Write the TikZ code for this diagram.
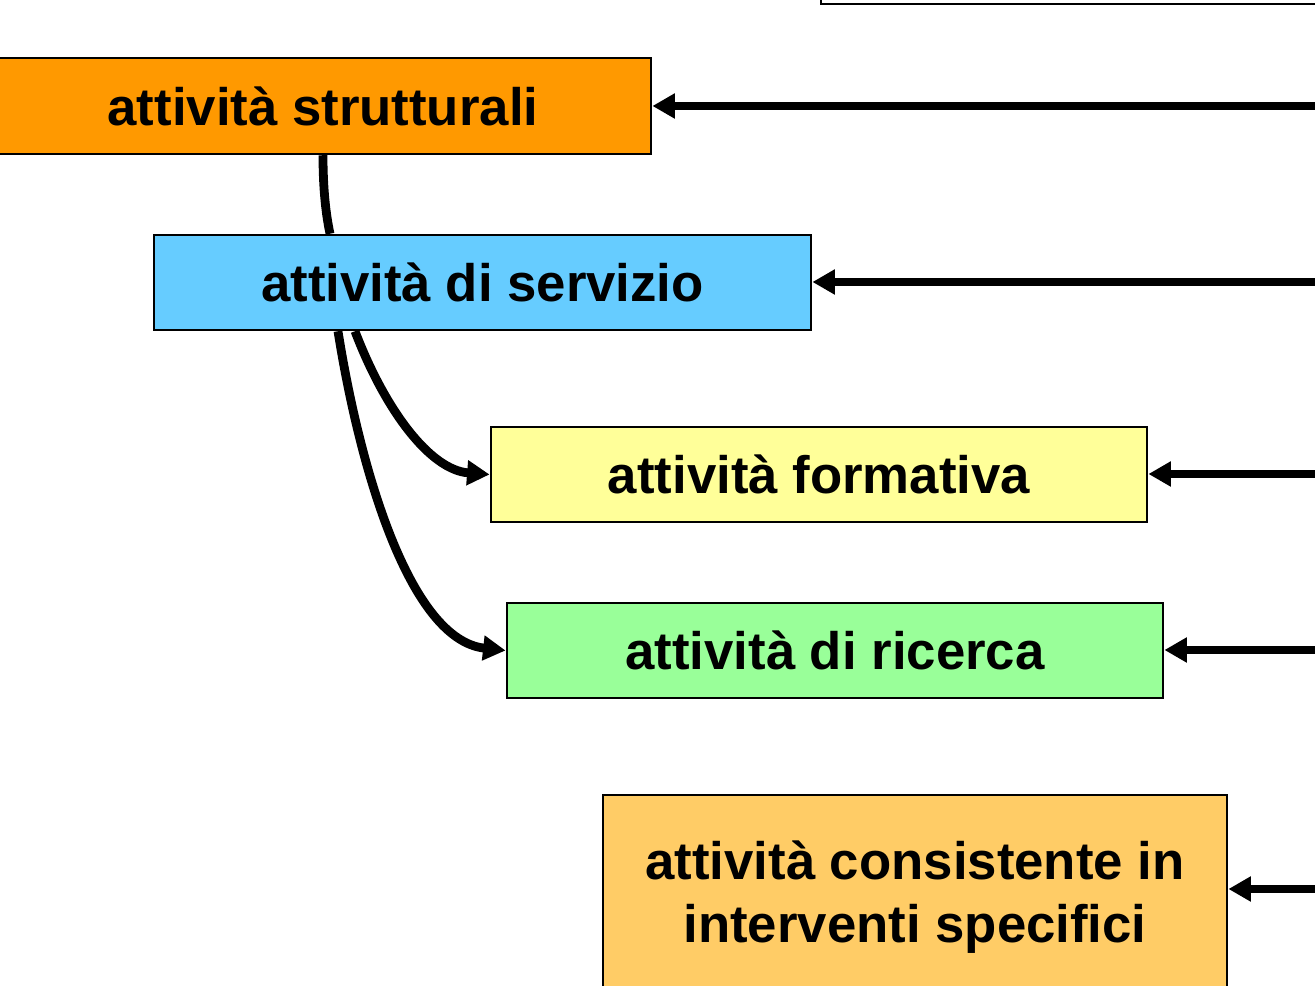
\documentclass[tikz,border=0pt]{standalone}
\usepackage{fontspec}
\setmainfont{Liberation Sans}
\usetikzlibrary{arrows.meta}
\definecolor{cOrange}{HTML}{FF9900}
\definecolor{cBlue}{HTML}{66CCFF}
\definecolor{cYellow}{HTML}{FFFF99}
\definecolor{cGreen}{HTML}{99FF99}
\definecolor{cLight}{HTML}{FFCC66}
\tikzset{
  box/.style={draw=black, line width=0.7pt, inner sep=0pt, align=center,
    font=\fontsize{15}{18}\selectfont\bfseries},
  feed/.style={line width=2pt, -{Triangle[length=6.4pt,width=6.8pt]}},
  link/.style={line width=2.5pt},
  linkarrow/.style={line width=2.5pt, -{Triangle[length=6.4pt,width=6.8pt]}}
}
\begin{document}
\begin{tikzpicture}[x=0.01cm, y=-0.01cm]
\useasboundingbox (0,0) rectangle (1315,986);
\clip (0,0) rectangle (1315,986);
\node[box, fill=white, minimum width=5cm, minimum height=1.04cm] (top) at (1071,-48) {};
\node[box, fill=cOrange, minimum width=6.56cm, minimum height=0.96cm] (str) at (323,106) {attività strutturali};
\node[box, fill=cBlue, minimum width=6.57cm, minimum height=0.95cm] (ser) at (482.5,282.5) {attività di servizio};
\node[box, fill=cYellow, minimum width=6.56cm, minimum height=0.95cm] (for) at (819,474.5) {attività formativa};
\node[box, fill=cGreen, minimum width=6.56cm, minimum height=0.95cm] (ric) at (835,650.5) {attività di ricerca};
\node[box, fill=cLight, minimum width=6.24cm, minimum height=2.04cm] (spe) at (915,897) {attività consistente in\\interventi specifici};

\coordinate (e1) at (1330,106);
\coordinate (e2) at (1330,282);
\coordinate (e3) at (1330,474);
\coordinate (e4) at (1330,650);
\coordinate (e5) at (1330,889);
\draw[feed] (e1) -- (str.east |- e1);
\draw[feed] (e2) -- (ser.east |- e2);
\draw[feed] (e3) -- (for.east |- e3);
\draw[feed] (e4) -- (ric.east |- e4);
\draw[feed] (e5) -- (spe.east |- e5);

\draw[link] (str.south -| 323,0) .. controls (323,190) and (326,215) .. (ser.north -| 330,0);
\draw[linkarrow] (ser.south -| 355,0) .. controls (385,410) and (430,470) .. (for.west);
\draw[linkarrow] (ser.south -| 338,0) .. controls (360,470) and (410,640) .. (ric.west);
\end{tikzpicture}
\end{document}
